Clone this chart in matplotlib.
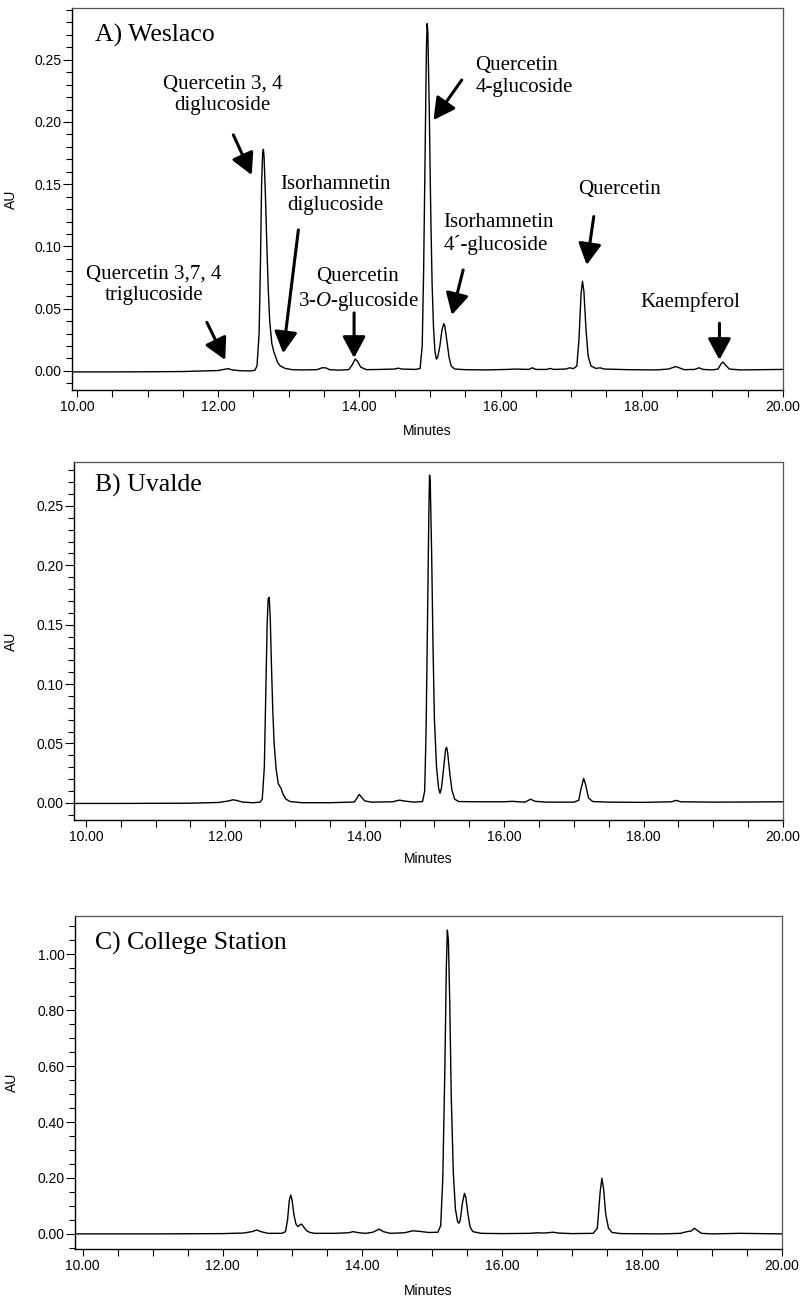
import matplotlib
matplotlib.use('Agg')
import matplotlib.pyplot as plt
from matplotlib.ticker import MultipleLocator, FormatStrFormatter

plt.rcParams['font.family'] = 'Liberation Sans'
plt.rcParams['mathtext.fontset'] = 'custom'
plt.rcParams['mathtext.rm'] = 'Liberation Serif'
plt.rcParams['mathtext.it'] = 'Liberation Serif:italic'

# traced chromatogram points (minutes, AU)
weslaco_t = [9.93, 10.5, 11.0, 11.5, 11.8, 12.0, 12.08, 12.14, 12.2, 12.3, 12.45, 12.52, 12.55,
             12.58, 12.60, 12.615, 12.63, 12.64, 12.65, 12.67, 12.69, 12.71, 12.73, 12.76, 12.79,
             12.81, 12.84, 12.88, 12.95, 13.05, 13.2, 13.4, 13.47, 13.52, 13.58, 13.7, 13.85, 13.9,
             13.94, 13.97, 14.02, 14.1, 14.3, 14.5, 14.55, 14.6, 14.8, 14.86, 14.89, 14.91, 14.93,
             14.95, 14.96, 14.97, 14.99, 15.01, 15.03, 15.05, 15.07, 15.09, 15.11, 15.14, 15.17,
             15.195, 15.21, 15.24, 15.27, 15.30, 15.35, 15.5, 15.8, 16.1, 16.2, 16.4, 16.45, 16.5,
             16.65, 16.7, 16.75, 16.92, 16.98, 17.03, 17.08, 17.11, 17.14, 17.16, 17.18, 17.21,
             17.24, 17.28, 17.35, 17.41, 17.47, 17.8, 18.2, 18.38, 18.48, 18.53, 18.6, 18.75, 18.81,
             18.87, 19.0, 19.08, 19.12, 19.15, 19.18, 19.24, 19.4, 19.7, 20.0]
weslaco_au = [-0.0008, -0.0008, -0.0007, -0.0005, 0.0, 0.0003, 0.0012, 0.0018, 0.0008, 0.0002, 0.0,
              0.0005, 0.004, 0.03, 0.09, 0.15, 0.175, 0.178, 0.172, 0.14, 0.10, 0.065, 0.04, 0.022,
              0.015, 0.012, 0.007, 0.004, 0.002, 0.001, 0.0008, 0.001, 0.0025, 0.0025, 0.001, 0.0006,
              0.001, 0.005, 0.0095, 0.008, 0.003, 0.001, 0.0012, 0.0015, 0.0022, 0.0015, 0.0012,
              0.002, 0.02, 0.08, 0.17, 0.26, 0.279, 0.272, 0.21, 0.13, 0.07, 0.035, 0.016, 0.0095,
              0.011, 0.02, 0.033, 0.038, 0.036, 0.024, 0.011, 0.004, 0.0015, 0.001, 0.0008, 0.0012,
              0.0015, 0.0012, 0.0025, 0.0012, 0.0012, 0.002, 0.0012, 0.0015, 0.0025, 0.0018, 0.004,
              0.025, 0.062, 0.072, 0.064, 0.033, 0.012, 0.004, 0.002, 0.0025, 0.0015, 0.001, 0.0008,
              0.0015, 0.0035, 0.0025, 0.001, 0.0012, 0.0025, 0.0012, 0.0008, 0.0015, 0.0055, 0.0072,
              0.005, 0.0015, 0.0008, 0.001, 0.0012]

uvalde_t = [9.83, 10.5, 11.0, 11.5, 11.9, 12.05, 12.11, 12.17, 12.25, 12.4, 12.5, 12.53, 12.56,
            12.58, 12.60, 12.615, 12.63, 12.645, 12.66, 12.68, 12.70, 12.73, 12.76, 12.78, 12.80,
            12.83, 12.87, 12.93, 13.1, 13.5, 13.85, 13.89, 13.92, 13.95, 14.0, 14.1, 14.4, 14.5,
            14.56, 14.7, 14.83, 14.86, 14.88, 14.90, 14.92, 14.93, 14.94, 14.96, 14.98, 15.00, 15.03,
            15.06, 15.08, 15.10, 15.13, 15.16, 15.175, 15.19, 15.22, 15.25, 15.29, 15.35, 15.6, 16.0,
            16.12, 16.2, 16.3, 16.38, 16.44, 16.6, 17.0, 17.07, 17.10, 17.14, 17.17, 17.21, 17.27,
            17.5, 18.0, 18.4, 18.47, 18.53, 19.0, 19.5, 20.0]
uvalde_au = [-0.0006, -0.0006, -0.0005, -0.0004, 0.0002, 0.0015, 0.0025, 0.0018, 0.0005, 0.0, 0.0005,
             0.003, 0.03, 0.09, 0.15, 0.172, 0.173, 0.155, 0.12, 0.08, 0.05, 0.028, 0.016, 0.014,
             0.012, 0.007, 0.003, 0.001, 0.0, 0.0, 0.0006, 0.004, 0.007, 0.005, 0.0015, 0.0005,
             0.0008, 0.0022, 0.0015, 0.0005, 0.001, 0.01, 0.06, 0.15, 0.245, 0.276, 0.27, 0.21, 0.13,
             0.07, 0.03, 0.012, 0.008, 0.012, 0.028, 0.045, 0.0467, 0.042, 0.025, 0.011, 0.003,
             0.001, 0.0008, 0.0008, 0.0012, 0.0008, 0.0005, 0.003, 0.0012, 0.0005, 0.0005, 0.002,
             0.011, 0.0205, 0.015, 0.004, 0.001, 0.0005, 0.0003, 0.0008, 0.002, 0.0008, 0.0005,
             0.0006, 0.0008]

college_t = [9.89, 11.0, 12.0, 12.3, 12.42, 12.49, 12.55, 12.65, 12.85, 12.90, 12.93, 12.955,
             12.975, 12.995, 13.02, 13.05, 13.08, 13.11, 13.13, 13.16, 13.2, 13.25, 13.32, 13.6,
             13.8, 13.87, 13.95, 14.05, 14.15, 14.24, 14.3, 14.4, 14.6, 14.72, 14.82, 14.95, 15.08,
             15.12, 15.15, 15.18, 15.20, 15.215, 15.23, 15.25, 15.27, 15.30, 15.33, 15.36, 15.38,
             15.40, 15.43, 15.46, 15.48, 15.51, 15.54, 15.58, 15.7, 16.0, 16.4, 16.5, 16.6, 16.73,
             16.8, 17.0, 17.3, 17.36, 17.40, 17.425, 17.45, 17.48, 17.52, 17.57, 17.7, 18.3, 18.55,
             18.64, 18.70, 18.75, 18.79, 18.85, 19.0, 19.4, 20.0]
college_au = [0.0, 0.0, 0.001, 0.003, 0.008, 0.014, 0.008, 0.002, 0.002, 0.008, 0.05, 0.12, 0.139,
              0.12, 0.07, 0.035, 0.026, 0.033, 0.035, 0.025, 0.012, 0.005, 0.002, 0.002, 0.004,
              0.008, 0.004, 0.002, 0.006, 0.017, 0.008, 0.002, 0.004, 0.011, 0.009, 0.005, 0.006,
              0.03, 0.2, 0.6, 0.95, 1.087, 1.05, 0.82, 0.5, 0.22, 0.09, 0.045, 0.038, 0.05, 0.11,
              0.145, 0.13, 0.07, 0.025, 0.008, 0.002, 0.001, 0.002, 0.004, 0.003, 0.006, 0.003,
              0.001, 0.002, 0.02, 0.15, 0.199, 0.16, 0.07, 0.02, 0.005, 0.001, 0.0, 0.002, 0.008,
              0.01, 0.02, 0.012, 0.002, 0.0, 0.002, 0.0]

# peak labels for Weslaco: text, text position, arrow tail, arrow head
peak_names = ['Quercetin 3,7, 4\ntriglucoside', 'Quercetin 3, 4\ndiglucoside',
              'Isorhamnetin\ndiglucoside', 'Quercetin\n3-$O$-glucoside',
              'Quercetin\n4-glucoside', 'Isorhamnetin\n4\u00b4-glucoside',
              'Quercetin', 'Kaempferol']
label_x = [11.09, 12.065, 13.656, 13.98, 15.64, 15.19, 17.685, 18.69]
label_y = [0.069, 0.2217, 0.1414, 0.065, 0.2365, 0.1096, 0.1454, 0.0554]
label_ha = ['center', 'center', 'center', 'center', 'left', 'left', 'center', 'center']
arrow_tail = [(11.84, 0.039), (12.215, 0.1896), (13.136, 0.1133), (13.925, 0.0466),
              (15.45, 0.2337), (15.47, 0.0811), (17.32, 0.124), (19.10, 0.0383)]
arrow_head = [(12.10, 0.0088), (12.475, 0.1574), (12.92, 0.0142), (13.925, 0.0104),
              (15.05, 0.2016), (15.31, 0.045), (17.22, 0.0851), (19.10, 0.0088)]

fig = plt.figure(figsize=(8.02, 12.99), dpi=100)
ax_a = fig.add_axes([0.0898, 0.6998, 0.8865, 0.2938])
ax_b = fig.add_axes([0.0923, 0.3687, 0.8840, 0.2754])
ax_c = fig.add_axes([0.0935, 0.0385, 0.8815, 0.2563])

panels = [
    (ax_a, weslaco_t, weslaco_au, 'A) Weslaco', (9.93, 20.0), (-0.0153, 0.2913), 0.05, 0.01,
     (0.032, 0.93), -0.076, -0.089),
    (ax_b, uvalde_t, uvalde_au, 'B) Uvalde', (9.83, 20.0), (-0.0146, 0.2868), 0.05, 0.01,
     (0.0296, 0.9365), -0.079, -0.089),
    (ax_c, college_t, college_au, 'C) College Station', (9.89, 20.0), (-0.054, 1.137), 0.2, 0.05,
     (0.028, 0.918), -0.079, -0.105),
]

for ax, t, au, title, xl, yl, ymaj, ymin, tpos, ylab_x, xlab_y in panels:
    ax.plot(t, au, color='black', lw=1.0)
    ax.set_xlim(xl)
    ax.set_ylim(yl)
    ax.xaxis.set_major_locator(MultipleLocator(2))
    ax.xaxis.set_minor_locator(MultipleLocator(0.5))
    ax.yaxis.set_major_locator(MultipleLocator(ymaj))
    ax.yaxis.set_minor_locator(MultipleLocator(ymin))
    ax.xaxis.set_major_formatter(FormatStrFormatter('%.2f'))
    ax.yaxis.set_major_formatter(FormatStrFormatter('%.2f'))
    ax.tick_params(axis='both', which='both', direction='out', labelsize=10, width=0.8)
    ax.tick_params(axis='y', which='major', length=6.5, pad=1)
    ax.tick_params(axis='y', which='minor', length=4)
    ax.tick_params(axis='x', which='both', length=5, pad=2)
    for side in ['top', 'right']:
        ax.spines[side].set_color('#555555')
        ax.spines[side].set_linewidth(0.9)
    for side in ['left', 'bottom']:
        ax.spines[side].set_linewidth(1.0)
    ax.set_ylabel('AU', fontsize=10)
    ax.set_xlabel('Minutes', fontsize=10)
    ax.yaxis.set_label_coords(ylab_x, 0.5)
    ax.xaxis.set_label_coords(0.5, xlab_y)
    ax.text(tpos[0], tpos[1], title, transform=ax.transAxes, fontsize=18.5,
            family='Liberation Serif', va='center', ha='left')

# compound labels with arrows
for name, lx, ly, ha, tail, head in zip(peak_names, label_x, label_y, label_ha,
                                        arrow_tail, arrow_head):
    ax_a.text(lx, ly, name, fontsize=15, family='Liberation Serif', ha=ha, va='center',
              multialignment=ha)
    ax_a.annotate('', xy=head, xytext=tail,
                  arrowprops=dict(arrowstyle='-|>,head_length=0.65,head_width=0.35',
                                  mutation_scale=20, lw=2.2, color='black',
                                  shrinkA=0, shrinkB=0))

fig.savefig('out.png', dpi=100)
